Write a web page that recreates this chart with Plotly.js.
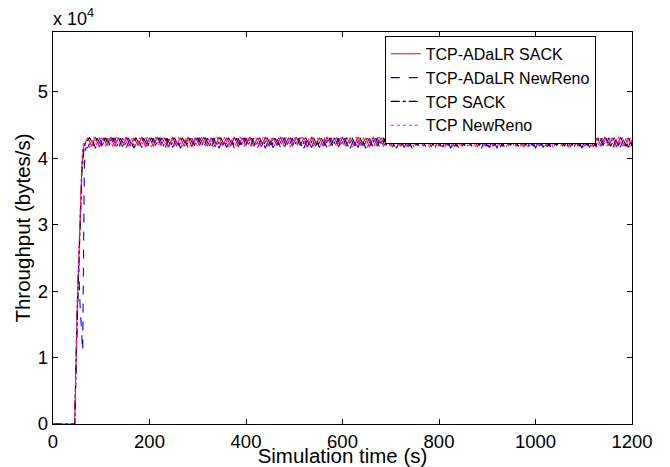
<!DOCTYPE html>
<html>
<head>
<meta charset="utf-8">
<script src="https://cdn.plot.ly/plotly-3.0.1.min.js"></script>
<style>html,body{margin:0;padding:0;background:#fff;}#chart{width:670px;height:467px;}</style>
</head>
<body>
<div id="chart"></div>
<script>
// Throughput values in units of 10^4 bytes/s
var seriesNames = ["TCP-ADaLR SACK", "TCP-ADaLR NewReno", "TCP SACK", "TCP NewReno"];
var xTicks = [0, 200, 400, 600, 800, 1000, 1200];
var yTicks = [0, 1, 2, 3, 4, 5];

var redStartT = [0, 45, 50, 55, 60, 64];
var redStartV = [0, 0, 1.7, 2.9, 3.9, 4.18];
var blueStartT = [0, 45, 49, 53, 56, 61.5, 65, 68];
var blueStartV = [0, 0, 1.2, 2.4, 1.8, 1.1, 3.9, 4.15];
var blackStartT = [0, 45, 50, 55, 60, 65];
var blackStartV = [0, 0, 1.6, 2.8, 3.8, 4.2];
var magStartT = [0, 45, 50, 55, 60, 63, 68];
var magStartV = [0, 0, 1.8, 3.0, 4.0, 4.25, 4.18];

var steadyT = [72,80,88,96,104,112,120,128,136,144,152,160,168,176,184,192,200,208,216,224,232,240,248,256,264,272,280,288,296,304,312,320,328,336,344,352,360,368,376,384,392,400,408,416,424,432,440,448,456,464,472,480,488,496,504,512,520,528,536,544,552,560,568,576,584,592,600,608,616,624,632,640,648,656,664,672,680,688,696,704,712,720,728,736,744,752,760,768,776,784,792,800,808,816,824,832,840,848,856,864,872,880,888,896,904,912,920,928,936,944,952,960,968,976,984,992,1000,1008,1016,1024,1032,1040,1048,1056,1064,1072,1080,1088,1096,1104,1112,1120,1128,1136,1144,1152,1160,1168,1176,1184,1192,1200];
var steadyT2 = [76,84,92,100,108,116,124,132,140,148,156,164,172,180,188,196,204,212,220,228,236,244,252,260,268,276,284,292,300,308,316,324,332,340,348,356,364,372,380,388,396,404,412,420,428,436,444,452,460,468,476,484,492,500,508,516,524,532,540,548,556,564,572,580,588,596,604,612,620,628,636,644,652,660,668,676,684,692,700,708,716,724,732,740,748,756,764,772,780,788,796,804,812,820,828,836,844,852,860,868,876,884,892,900,908,916,924,932,940,948,956,964,972,980,988,996,1004,1012,1020,1028,1036,1044,1052,1060,1068,1076,1084,1092,1100,1108,1116,1124,1132,1140,1148,1156,1164,1172,1180,1188,1196,1200];

var redSteady = [
4.31,4.18,4.32,4.17,4.31,4.19,4.32,4.18,4.31,4.17,
4.32,4.18,4.31,4.19,4.32,4.17,4.31,4.18,4.32,4.19,
4.31,4.17,4.32,4.18,4.31,4.18,4.32,4.17,4.31,4.19,
4.32,4.18,4.31,4.17,4.32,4.19,4.31,4.18,4.32,4.17,
4.31,4.19,4.32,4.18,4.31,4.17,4.32,4.18,4.31,4.19,
4.32,4.17,4.31,4.18,4.32,4.19,4.31,4.17,4.32,4.18,
4.31,4.18,4.32,4.19,4.31,4.17,4.32,4.18,4.31,4.18,
4.32,4.19,4.31,4.17,4.32,4.18,4.31,4.19,4.32,4.17,
4.31,4.18,4.32,4.17,4.31,4.19,4.32,4.18,4.31,4.17,
4.32,4.18,4.31,4.19,4.32,4.17,4.31,4.18,4.32,4.19,
4.31,4.17,4.32,4.18,4.31,4.18,4.32,4.17,4.31,4.19,
4.32,4.18,4.31,4.17,4.32,4.19,4.31,4.18,4.32,4.17,
4.31,4.19,4.32,4.18,4.31,4.17,4.32,4.18,4.31,4.19,
4.32,4.17,4.31,4.18,4.32,4.19,4.31,4.17,4.32,4.18,
4.31,4.18];

var blueSteady = [
4.16,4.30,4.15,4.31,4.16,4.30,4.17,4.31,4.15,4.30,
4.16,4.31,4.15,4.30,4.16,4.31,4.15,4.30,4.17,4.31,
4.15,4.30,4.16,4.31,4.15,4.30,4.16,4.30,4.15,4.31,
4.16,4.30,4.17,4.31,4.15,4.30,4.16,4.31,4.15,4.30,
4.16,4.31,4.15,4.30,4.16,4.30,4.15,4.31,4.16,4.30,
4.15,4.31,4.16,4.30,4.17,4.31,4.15,4.30,4.16,4.31,
4.16,4.30,4.15,4.31,4.16,4.30,4.17,4.31,4.15,4.30,
4.16,4.31,4.15,4.30,4.16,4.31,4.15,4.30,4.17,4.31,
4.15,4.30,4.16,4.31,4.15,4.30,4.16,4.30,4.15,4.31,
4.16,4.30,4.17,4.31,4.15,4.30,4.16,4.31,4.15,4.30,
4.16,4.31,4.15,4.30,4.16,4.30,4.15,4.31,4.16,4.30,
4.15,4.31,4.16,4.30,4.17,4.31,4.15,4.30,4.16,4.31,
4.16,4.30,4.15,4.31,4.16,4.30,4.17,4.31,4.15,4.30,
4.16,4.31,4.15,4.30,4.16,4.31,4.15,4.30,4.17,4.31,
4.16,4.30];

var blackSteady = [
4.31,4.19,4.30,4.18,4.31,4.19,4.31,4.18,4.30,4.19,
4.31,4.18,4.31,4.19,4.30,4.18,4.31,4.19,4.31,4.18,
4.30,4.19,4.31,4.18,4.31,4.19,4.30,4.18,4.31,4.19,
4.31,4.18,4.30,4.19,4.31,4.18,4.31,4.19,4.30,4.18,
4.31,4.19,4.30,4.18,4.31,4.19,4.31,4.18,4.30,4.19,
4.31,4.18,4.31,4.19,4.30,4.18,4.31,4.19,4.31,4.18,
4.30,4.19,4.31,4.18,4.31,4.19,4.30,4.18,4.31,4.19,
4.31,4.18,4.30,4.19,4.31,4.18,4.31,4.19,4.30,4.18,
4.31,4.19,4.30,4.18,4.31,4.19,4.31,4.18,4.30,4.19,
4.31,4.18,4.31,4.19,4.30,4.18,4.31,4.19,4.31,4.18,
4.30,4.19,4.31,4.18,4.31,4.19,4.30,4.18,4.31,4.19,
4.31,4.18,4.30,4.19,4.31,4.18,4.31,4.19,4.30,4.18,
4.31,4.19,4.30,4.18,4.31,4.19,4.31,4.18,4.30,4.19,
4.31,4.18,4.31,4.19,4.30,4.18,4.31,4.19,4.31,4.18,
4.30,4.19];

var magSteady = [
4.17,4.32,4.18,4.31,4.17,4.32,4.18,4.32,4.17,4.31,
4.18,4.32,4.17,4.31,4.18,4.32,4.17,4.32,4.18,4.31,
4.17,4.32,4.18,4.32,4.17,4.31,4.18,4.32,4.17,4.32,
4.18,4.31,4.17,4.32,4.18,4.32,4.17,4.31,4.18,4.32,
4.17,4.32,4.18,4.31,4.17,4.32,4.18,4.32,4.17,4.31,
4.18,4.32,4.17,4.31,4.18,4.32,4.17,4.32,4.18,4.31,
4.17,4.32,4.18,4.32,4.17,4.31,4.18,4.32,4.17,4.32,
4.18,4.31,4.17,4.32,4.18,4.32,4.17,4.31,4.18,4.32,
4.17,4.32,4.18,4.31,4.17,4.32,4.18,4.32,4.17,4.31,
4.18,4.32,4.17,4.31,4.18,4.32,4.17,4.32,4.18,4.31,
4.17,4.32,4.18,4.32,4.17,4.31,4.18,4.32,4.17,4.32,
4.18,4.31,4.17,4.32,4.18,4.32,4.17,4.31,4.18,4.32,
4.17,4.32,4.18,4.31,4.17,4.32,4.18,4.32,4.17,4.31,
4.18,4.32,4.17,4.31,4.18,4.32,4.17,4.32,4.18,4.31,
4.17,4.32];

var FONT = "Arial, 'Liberation Sans', sans-serif";

var traces = [
  {x: redStartT.concat(steadyT), y: redStartV.concat(redSteady), name: seriesNames[0],
   mode: "lines", line: {color: "#ff0000", width: 1.1}},
  {x: blueStartT.concat(steadyT), y: blueStartV.concat(blueSteady), name: seriesNames[1],
   mode: "lines", line: {color: "#0000ff", width: 1.1, dash: "dash"}},
  {x: blackStartT.concat(steadyT2), y: blackStartV.concat(blackSteady), name: seriesNames[2],
   mode: "lines", line: {color: "#000000", width: 1.1, dash: "dashdot"}},
  {x: magStartT.concat(steadyT2), y: magStartV.concat(magSteady), name: seriesNames[3],
   mode: "lines", line: {color: "#ff00ff", width: 1.1, dash: "dot"}}
];

var layout = {
  width: 670, height: 467,
  margin: {l: 53, r: 38, t: 32, b: 43},
  paper_bgcolor: "#fff", plot_bgcolor: "#fff",
  font: {family: FONT, color: "#000", size: 18},
  showlegend: true,
  legend: {
    x: 0.573, y: 0.99, xanchor: "left", yanchor: "top",
    bgcolor: "#fff", bordercolor: "#000", borderwidth: 1,
    font: {family: FONT, size: 16, color: "#000"},
    itemwidth: 30,
    tracegroupgap: 0
  },
  xaxis: {
    range: [0, 1200], tickvals: xTicks, ticktext: xTicks.map(String),
    ticks: "inside", ticklen: 5, tickcolor: "#000", tickwidth: 1,
    showline: true, linecolor: "#000", linewidth: 1.3, mirror: "ticks",
    showgrid: false, zeroline: false,
    tickfont: {family: FONT, size: 18.5, color: "#000"},
    title: {text: "Simulation time (s)", font: {family: FONT, size: 20.5, color: "#000"}, standoff: 0}
  },
  yaxis: {
    range: [0, 5.9], tickvals: yTicks, ticktext: yTicks.map(String),
    ticks: "inside", ticklen: 5, tickcolor: "#000", tickwidth: 1,
    showline: true, linecolor: "#000", linewidth: 1.3, mirror: "ticks",
    showgrid: false, zeroline: false,
    tickfont: {family: FONT, size: 18.5, color: "#000"},
    title: {text: "Throughput (bytes/s)", font: {family: FONT, size: 20.5, color: "#000"}, standoff: 1}
  },
  annotations: [{
    xref: "paper", yref: "paper", x: 0, y: 1, xanchor: "left", yanchor: "bottom",
    xshift: -2, yshift: 1, showarrow: false, text: "x 10<sup>4</sup>",
    font: {family: FONT, size: 18, color: "#000"}
  }]
};

Plotly.newPlot("chart", traces, layout, {displayModeBar: false, staticPlot: true});
</script>
</body>
</html>
